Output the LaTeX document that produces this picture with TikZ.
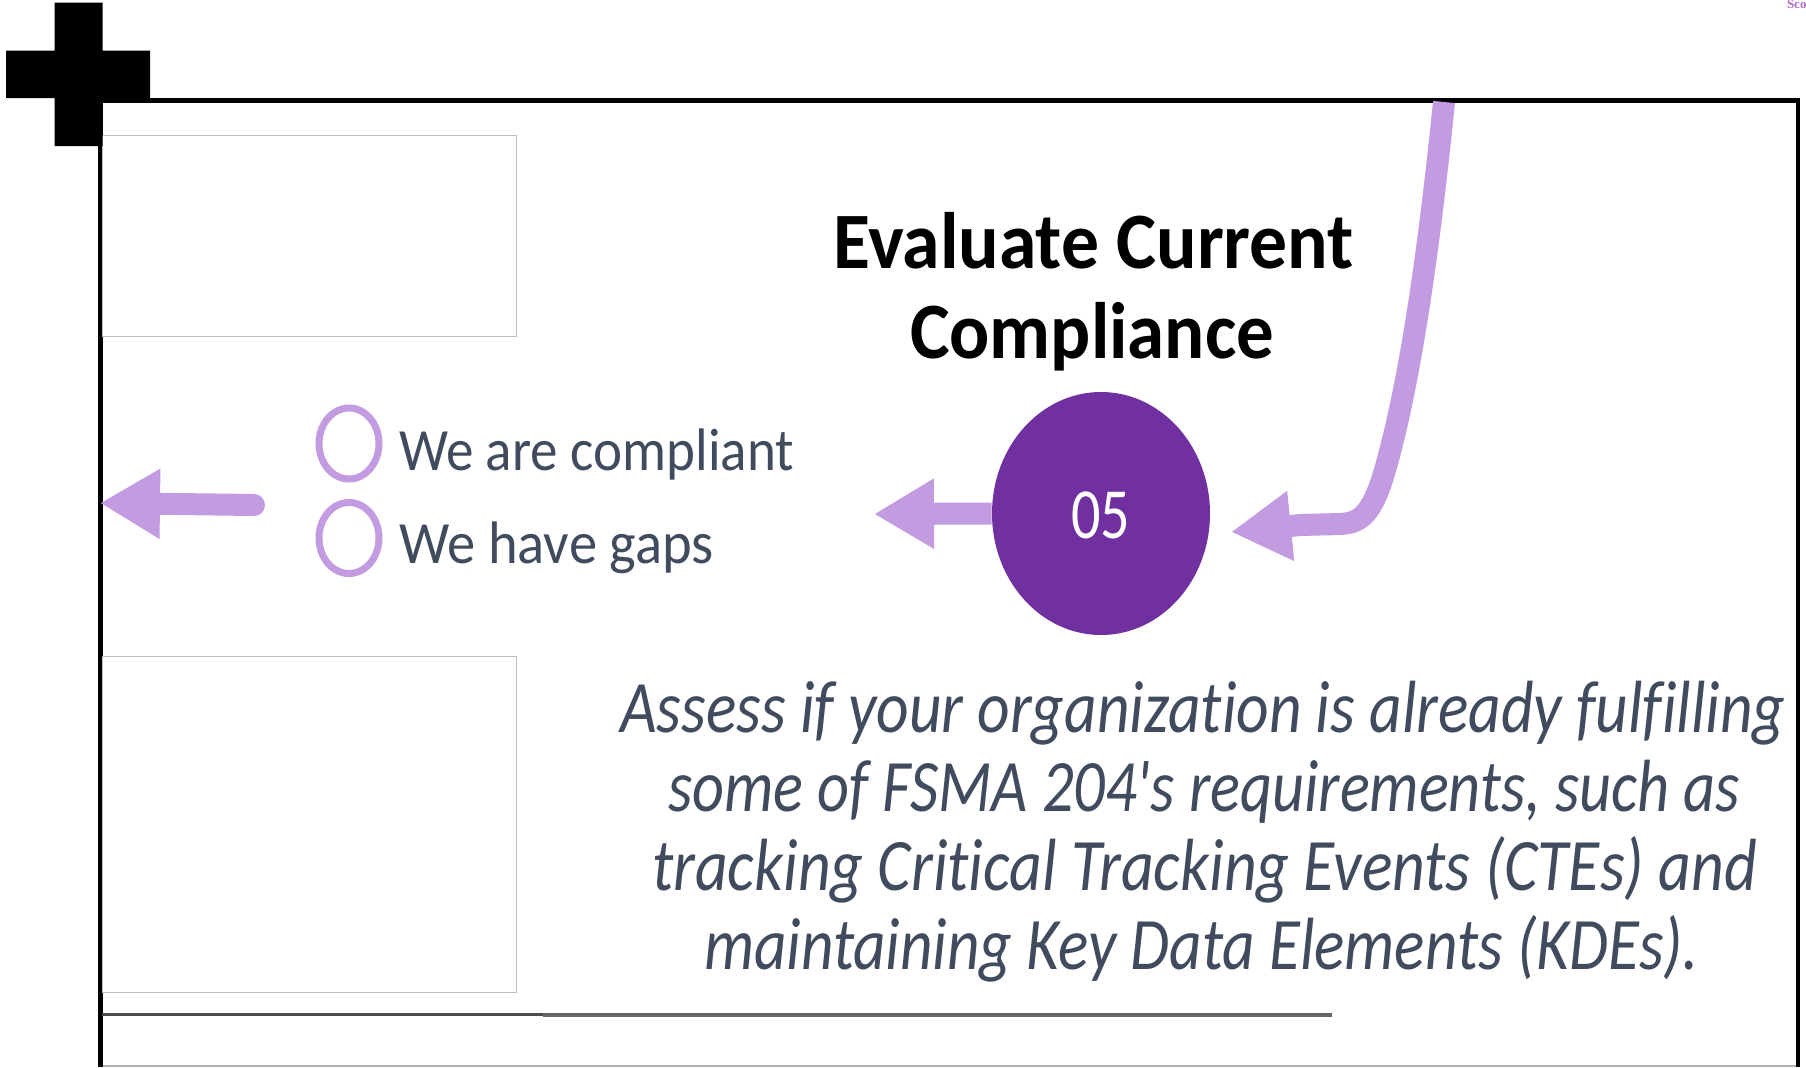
\documentclass[tikz,border=0pt]{standalone}
\usepackage{fontspec}
\usepackage{graphicx}
\setmainfont{Carlito}[Ligatures=NoCommon]
\newfontfamily\cornerfont{Liberation Serif}
\usetikzlibrary{arrows.meta,shapes.geometric}
\definecolor{lilac}{HTML}{C39BE1}
\definecolor{deep}{HTML}{7030A0}
\definecolor{slate}{HTML}{404B5E}
\tikzset{
  line/.style={anchor=base west,inner sep=0pt,outer sep=0pt},
  titleline/.style={line,font=\bfseries\fontsize{40}{40}\selectfont,text=black},
  bodyline/.style={line,font=\itshape\fontsize{37}{37}\selectfont,text=slate},
  optline/.style={line,font=\fontsize{30}{30}\selectfont,text=slate},
  optring/.style={ellipse,draw=lilac,line width=3.5pt,minimum width=30pt,minimum height=35.5pt,inner sep=0pt},
  flow/.style={draw=lilac,line width=11pt},
  emptybox/.style={draw=black!25,line width=0.6pt,fill=white},
  head/.style={-{Triangle[length=30pt,width=33pt,sharp,fill=lilac]}},
}
\newcommand{\fitw}[2]{\resizebox{#1pt}{\height}{#2}}
\begin{document}
\begin{tikzpicture}[x=0.5pt,y=-0.5pt]
\useasboundingbox (0,0) rectangle (1806,1067);
\fill[white] (0,0) rectangle (1806,1067);
% frame
\draw[black!30,line width=0.6pt] (100,1066) -- (1799,1066);
\draw[black,line width=2.4pt] (100.5,100.5) -- (1798,100.5) -- (1798,1067);
\draw[black,line width=2.4pt] (100.5,100.5) -- (100.5,1067);
% boxes
\node[emptybox,minimum width=207pt,minimum height=100.5pt,inner sep=0pt,anchor=north west] (boxa) at (102,135) {};
\node[emptybox,minimum width=207pt,minimum height=168pt,inner sep=0pt,anchor=north west] (boxb) at (102,656) {};
% cross
\fill[black] (54.5,2.5) -- (102.5,2.5) -- (102.5,50.5) -- (150,50.5) -- (150,98) -- (102.5,98) -- (102.5,146) -- (54.5,146) -- (54.5,98) -- (6,98) -- (6,50.5) -- (54.5,50.5) -- cycle;
% small corner text
\node[line,font=\cornerfont\bfseries\fontsize{6.5}{6.5}\selectfont,text=lilac!70!violet] (corner) at (1787,8.5) {Sco};
% title
\node[titleline] (t1) at (833,268) {\fitw{260.5}{Evaluate Current}};
\node[titleline] (t2) at (910,358) {\fitw{182}{Compliance}};
% options
\node[optring] (r1) at (349,443.5) {};
\node[optring] (r2) at (349,538) {};
\node[optline] (o1) at (399,470) {\fitw{197.5}{We are compliant}};
\node[optline] (o2) at (399,563) {\fitw{157.5}{We have gaps}};
% step circle and its connectors
\coordinate (inA) at (1444,102);
\coordinate (inTip) at (1231,532);
\coordinate (outTip) at (874,514);
\coordinate (optTip) at (100,503);
\coordinate (optTail) at (254,505);
\path[flow,head] (inA) .. controls (1425,290) and (1405,400) .. (1385,470) .. controls (1372,515) and (1360,523) .. (1340,524) -- (1300,525) -- (inTip);
\node[ellipse,fill=deep,minimum width=109pt,minimum height=121.5pt,inner sep=0pt] (c05) at (1101,513.5) {};
\node[anchor=base,inner sep=0pt,text=white,font=\fontsize{36}{36}\selectfont] (n05) at (1100.5,538) {\fitw{29.5}{05}};
\path[flow,head] (c05.west) -- (outTip);
\path[flow,head,line cap=round] (optTail) -- (optTip);
% body
\node[bodyline] (b1) at (620,732) {\fitw{583}{Assess if your organization is already fulfilling}};
\node[bodyline] (b2) at (668,811) {\fitw{536}{some of FSMA 204\textquotesingle s requirements, such as}};
\node[bodyline] (b3) at (652,890) {\fitw{552.5}{tracking Critical Tracking Events (CTEs) and}};
\node[bodyline] (b4) at (704,969) {\fitw{497.5}{maintaining Key Data Elements (KDEs).}};
% rule
\coordinate (ruleA) at (102,1014);
\coordinate (ruleB) at (543,1014);
\coordinate (ruleC) at (543,1015);
\coordinate (ruleD) at (1332,1015);
\draw[black!70,line width=1.5pt] (ruleA) -- (ruleB);
\draw[black!60,line width=2pt] (ruleC) -- (ruleD);
\end{tikzpicture}
\end{document}
